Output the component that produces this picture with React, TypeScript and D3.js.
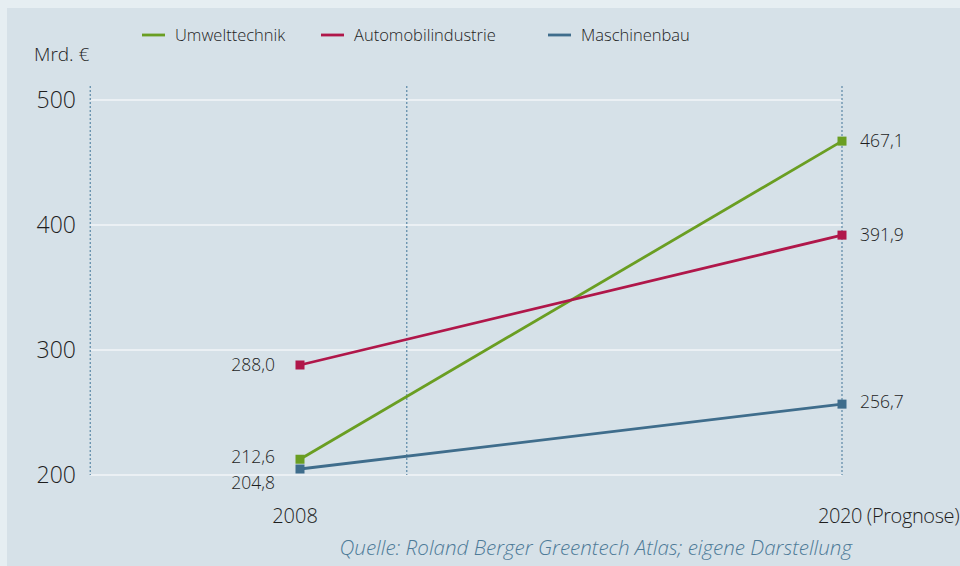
import React, { useRef, useEffect } from "react";
import * as d3 from "d3";

const years = ["2008", "2020 (Prognose)"];
const seriesNames = ["Umwelttechnik", "Automobilindustrie", "Maschinenbau"];
const umwelttechnik = [212.6, 467.1];
const automobilindustrie = [288.0, 391.9];
const maschinenbau = [204.8, 256.7];
const yTicks = [200, 300, 400, 500];

const colors = ["#6a9e22", "#b0174a", "#3f6d8c"];
// label offsets (px) for the start / end values of each series
const startDy = [-3, 0, 14];
const endDy = [0, 0, -2];

const W = 960;
const H = 566;

function fmt(v: number) {
  return d3.format(".1f")(v).replace(".", ",");
}

function LineChart() {
  const ref = useRef<SVGSVGElement>(null);

  useEffect(() => {
    const svg = d3.select(ref.current);
    svg.selectAll("*").remove();
    const font = "'Open Sans', 'Noto Sans', sans-serif";
    const weight = 300;
    const ink = "#1e1e1e";

    const data = [umwelttechnik, automobilindustrie, maschinenbau];

    // backgrounds
    svg.append("rect").attr("width", W).attr("height", H).attr("fill", "#e6eef2");
    svg.append("rect").attr("x", 7).attr("y", 8).attr("width", W - 7).attr("height", H - 8).attr("fill", "#d6e1e8");

    const y = d3.scaleLinear().domain([200, 500]).range([475, 100]);
    // category index -> x; guides sit at fractional positions
    const x = d3.scaleLinear().domain([0, 1]).range([300, 842]);
    const guides = [-0.387, 0.197, 1];
    const plotLeft = x(guides[0]);
    const plotRight = x(1);

    // horizontal grid
    svg.append("g")
      .selectAll("line")
      .data(yTicks)
      .join("line")
      .attr("x1", plotLeft)
      .attr("x2", plotRight)
      .attr("y1", (d) => y(d))
      .attr("y2", (d) => y(d))
      .attr("stroke", "#ffffff")
      .attr("stroke-width", 1.2);

    // vertical dotted guides
    svg.append("g")
      .selectAll("line")
      .data(guides)
      .join("line")
      .attr("x1", (d) => x(d))
      .attr("x2", (d) => x(d))
      .attr("y1", 86)
      .attr("y2", y(200))
      .attr("stroke", "#5a87a6")
      .attr("stroke-width", 1.2)
      .attr("stroke-dasharray", "2,2");

    // y tick labels
    svg.append("g")
      .selectAll("text")
      .data(yTicks)
      .join("text")
      .attr("x", 76)
      .attr("y", (d) => y(d))
      .attr("dy", "0.36em")
      .attr("text-anchor", "end")
      .attr("font-family", font)
      .attr("font-weight", weight)
      .attr("font-size", 23)
      .attr("fill", ink)
      .text((d) => d);

    svg.append("text")
      .attr("x", 34)
      .attr("y", 61)
      .attr("font-family", font)
      .attr("font-weight", weight)
      .attr("font-size", 19)
      .attr("fill", ink)
      .text("Mrd. €");

    // x labels
    svg.append("g")
      .selectAll("text")
      .data(years)
      .join("text")
      .attr("x", (_, i) => (i === 0 ? x(i) - 5 : x(i) - 24))
      .attr("y", 523)
      .attr("text-anchor", (_, i) => (i === 0 ? "middle" : "start"))
      .attr("font-family", font)
      .attr("font-weight", weight)
      .attr("font-size", 20)
      .attr("letter-spacing", (_, i) => (i === 0 ? 0 : -0.4))
      .attr("fill", ink)
      .text((d) => d);

    const line = d3
      .line<number>()
      .x((_, i) => x(i))
      .y((d) => y(d));

    data.forEach((vals, s) => {
      const g = svg.append("g");
      g.append("path")
        .datum(vals)
        .attr("fill", "none")
        .attr("stroke", colors[s])
        .attr("stroke-width", 2.8)
        .attr("d", line);
      g.selectAll("rect")
        .data(vals)
        .join("rect")
        .attr("x", (_, i) => x(i) - 4.5)
        .attr("y", (d) => y(d) - 4.5)
        .attr("width", 9)
        .attr("height", 9)
        .attr("fill", colors[s]);
      g.selectAll("text")
        .data(vals)
        .join("text")
        .attr("x", (_, i) => (i === 0 ? x(i) - 25 : x(i) + 18))
        .attr("y", (d, i) => y(d) + (i === 0 ? startDy[s] : endDy[s]))
        .attr("dy", "0.36em")
        .attr("text-anchor", (_, i) => (i === 0 ? "end" : "start"))
        .attr("font-family", font)
        .attr("font-weight", weight)
        .attr("font-size", 17.5)
        .attr("fill", ink)
        .text((d) => fmt(d));
    });

    // legend
    const legendX = [142, 321, 548];
    const legend = svg.append("g")
      .selectAll("g")
      .data(seriesNames)
      .join("g")
      .attr("transform", (_, i) => `translate(${legendX[i]},35)`);
    legend.append("line")
      .attr("x1", 0)
      .attr("x2", 23)
      .attr("stroke", (_, i) => colors[i])
      .attr("stroke-width", 2.8);
    legend.append("text")
      .attr("x", 33)
      .attr("dy", "0.36em")
      .attr("font-family", font)
      .attr("font-weight", weight)
      .attr("font-size", 16.5)
      .attr("fill", ink)
      .text((d) => d);

    // source
    svg.append("text")
      .attr("x", 852)
      .attr("y", 555)
      .attr("text-anchor", "end")
      .attr("font-family", font)
      .attr("font-weight", weight)
      .attr("font-style", "italic")
      .attr("font-size", 20.6)
      .attr("fill", "#4e7b98")
      .text("Quelle: Roland Berger Greentech Atlas; eigene Darstellung");
  }, []);

  return (
    <svg
      ref={ref}
      width={W}
      height={H}
      style={{ position: "absolute", left: 0, top: 0, display: "block" }}
    ></svg>
  );
}

export default function App() {
  return <LineChart />;
}
